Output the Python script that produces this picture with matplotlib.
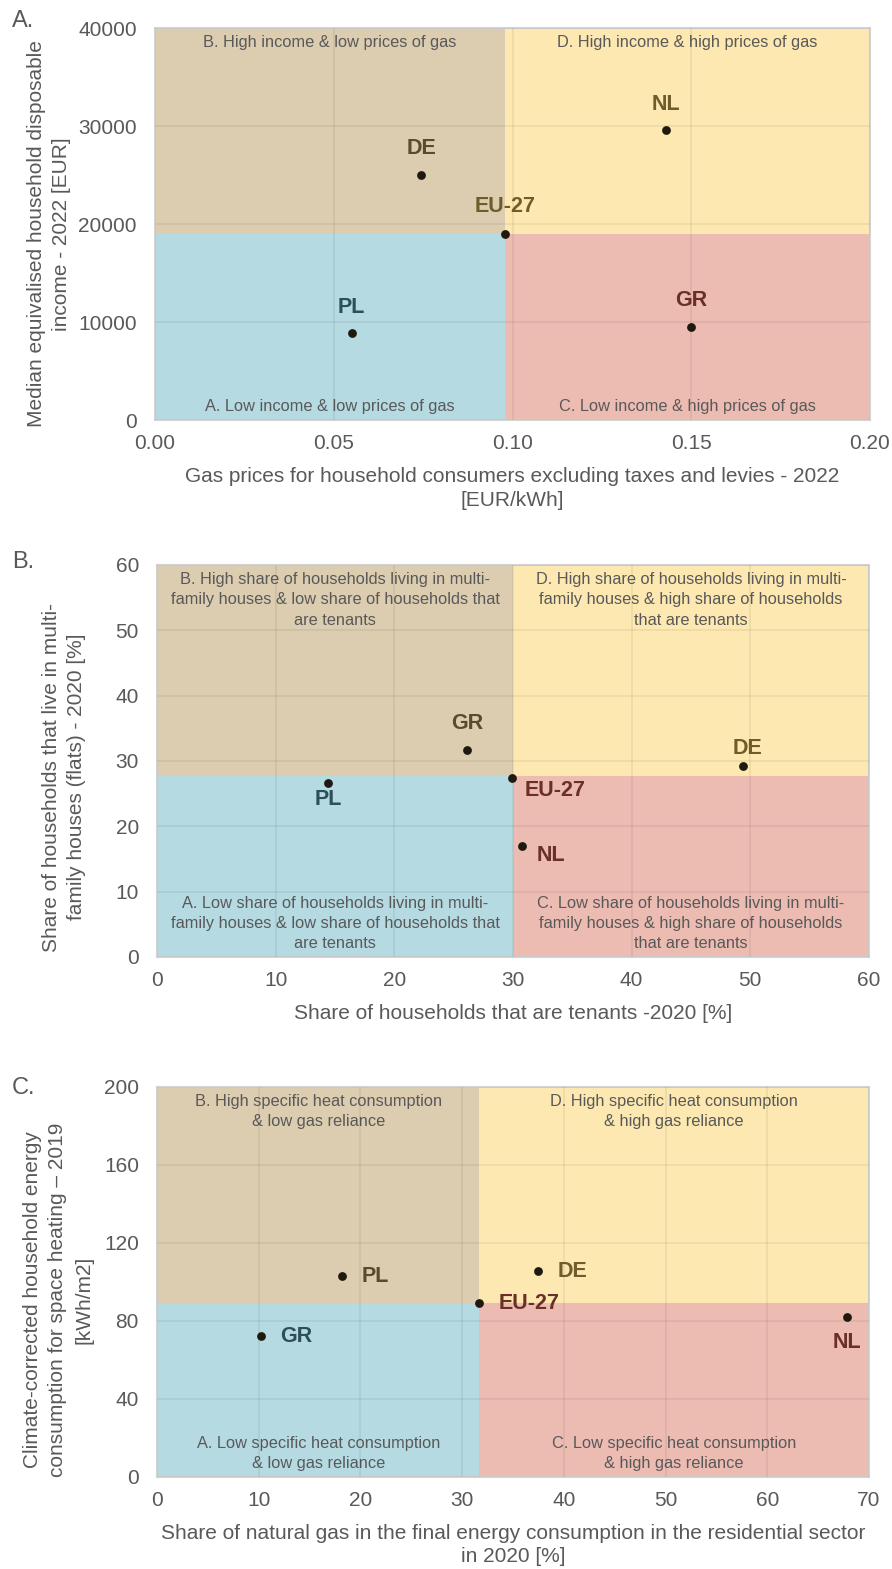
import matplotlib
matplotlib.use("Agg")
import matplotlib.pyplot as plt
from matplotlib.patches import Rectangle

plt.rcParams['font.family'] = ['Liberation Sans', 'DejaVu Sans']

# ---- data ----
countries_a = ['PL', 'DE', 'EU-27', 'NL', 'GR']
gas_price_a = [0.055, 0.0745, 0.098, 0.143, 0.150]
income_a = [8900, 25000, 19000, 29600, 9500]

countries_b = ['PL', 'GR', 'EU-27', 'DE', 'NL']
tenants_b = [14.4, 26.1, 29.9, 49.4, 30.8]
flats_b = [26.6, 31.7, 27.4, 29.2, 17.0]

countries_c = ['GR', 'PL', 'EU-27', 'DE', 'NL']
gas_share_c = [10.2, 18.2, 31.7, 37.5, 67.8]
heat_c = [72.3, 103.0, 89.2, 105.6, 82.0]

quad_a = ['A. Low income & low prices of gas',
          'B. High income & low prices of gas',
          'C. Low income & high prices of gas',
          'D. High income & high prices of gas']
quad_b = ['A. Low share of households living in multi-\nfamily houses & low share of households that\nare tenants',
          'B. High share of households living in multi-\nfamily houses & low share of households that\nare tenants',
          'C. Low share of households living in multi-\nfamily houses & high share of households\nthat are tenants',
          'D. High share of households living in multi-\nfamily houses & high share of households\nthat are tenants']
quad_c = ['A. Low specific heat consumption\n& low gas reliance',
          'B. High specific heat consumption\n& low gas reliance',
          'C. Low specific heat consumption\n& high gas reliance',
          'D. High specific heat consumption\n& high gas reliance']

FILL = {'A': '#b5dae2', 'B': '#dccdb0', 'C': '#ecbcb2', 'D': '#fce8b0'}
LBL = {'A': '#2c4f5a', 'B': '#5b4a2b', 'C': '#6a2f27', 'D': '#6e5c2a'}
GREY = '#595959'

W, H = 892, 1569
fig = plt.figure(figsize=(W / 100, H / 100), dpi=100)


def fx(px):
    return px / W


def fy(py):
    return 1 - py / H


def panel(box, letter, letter_y, ylab_pos, x, y, names, split, xlim, ylim,
          xticks, yticks, xfmt, quads, xlabel, ylabel, placement):
    left, top, right, bottom = box
    ax = fig.add_axes([fx(left), fy(bottom), fx(right - left), (bottom - top) / H])
    sx, sy = split
    x0, x1 = xlim
    y0, y1 = ylim
    ax.add_patch(Rectangle((x0, y0), sx - x0, sy - y0, color=FILL['A'], lw=0, zorder=0))
    ax.add_patch(Rectangle((x0, sy), sx - x0, y1 - sy, color=FILL['B'], lw=0, zorder=0))
    ax.add_patch(Rectangle((sx, y0), x1 - sx, sy - y0, color=FILL['C'], lw=0, zorder=0))
    ax.add_patch(Rectangle((sx, sy), x1 - sx, y1 - sy, color=FILL['D'], lw=0, zorder=0))
    ax.set_xlim(xlim)
    ax.set_ylim(ylim)
    ax.set_xticks(xticks)
    ax.set_yticks(yticks)
    ax.set_xticklabels([xfmt.format(v) for v in xticks])
    ax.grid(True, color='black', alpha=0.07, lw=1.1, zorder=1)
    ax.set_axisbelow(False)
    ax.tick_params(length=0, labelsize=15, labelcolor=GREY)
    ax.tick_params(axis='x', pad=10)
    ax.tick_params(axis='y', pad=13)
    for s in ax.spines.values():
        s.set_color('#d4d4d4')
        s.set_linewidth(1.5)

    # quadrant captions
    cx_l, cx_r = (x0 + sx) / 2, (sx + x1) / 2
    kw = dict(ha='center', fontsize=11.8, color=GREY, linespacing=1.45, zorder=2,
              textcoords='offset points', xycoords='data')
    ax.annotate(quads[0], (cx_l, y0), xytext=(0, 4), va='bottom', **kw)
    ax.annotate(quads[1], (cx_l, y1), xytext=(0, -5), va='top', **kw)
    ax.annotate(quads[2], (cx_r, y0), xytext=(0, 4), va='bottom', **kw)
    ax.annotate(quads[3], (cx_r, y1), xytext=(0, -5), va='top', **kw)

    ax.scatter(x, y, s=40, color='#1e1a10', zorder=4, lw=0)
    for xi, yi, name, (dx, dy, ha, q) in zip(x, y, names, placement):
        ax.annotate(name, (xi, yi), xytext=(dx, dy), textcoords='offset points',
                    ha=ha, va='center', fontsize=15.5, fontweight='bold',
                    color=LBL[q], zorder=5)

    # axis titles placed in figure pixels
    fig.text(fx((left + right) / 2), fy(bottom + 47), xlabel, fontsize=15, color=GREY,
             ha='center', va='top', linespacing=1.3)
    fig.text(fx(ylab_pos[0]), fy(ylab_pos[1]), ylabel, fontsize=15, color=GREY,
             ha='center', va='center', rotation=90, linespacing=1.45,
             multialignment='center')
    fig.text(fx(12), fy(letter_y), letter, fontsize=17, color=GREY,
             ha='left', va='center')
    return ax


panel((155, 28, 870, 420), 'A.', 21, (49, 234), gas_price_a, income_a, countries_a,
      (0.098, 19000), (0, 0.2), (0, 40000),
      [0, 0.05, 0.10, 0.15, 0.20], [0, 10000, 20000, 30000, 40000], '{:.2f}', quad_a,
      'Gas prices for household consumers excluding taxes and levies - 2022\n[EUR/kWh]',
      'Median equivalised household disposable\nincome - 2022 [EUR]',
      [(0, 18, 'center', 'A'), (0, 19, 'center', 'B'), (0, 20, 'center', 'D'),
       (0, 18, 'center', 'D'), (0, 19, 'center', 'C')])

panel((157, 565, 869, 957), 'B.', 562, (64, 777), tenants_b, flats_b, countries_b,
      (30, 27.7), (0, 60), (0, 60),
      [0, 10, 20, 30, 40, 50, 60], [0, 10, 20, 30, 40, 50, 60], '{:d}', quad_b,
      'Share of households that are tenants -2020 [%]',
      'Share of households that live in multi-\nfamily houses (flats) - 2020 [%]',
      [(0, -12, 'center', 'A'), (0, 19, 'center', 'B'), (9, -9, 'left', 'C'),
       (3, 13, 'center', 'D'), (10, -7, 'left', 'C')])

panel((157, 1087, 869, 1477), 'C.', 1088, (58, 1300), gas_share_c, heat_c, countries_c,
      (31.7, 89.2), (0, 70), (0, 200),
      [0, 10, 20, 30, 40, 50, 60, 70], [0, 40, 80, 120, 160, 200], '{:d}', quad_c,
      'Share of natural gas in the final energy consumption in the residential sector\nin 2020 [%]',
      'Climate-corrected household energy\nconsumption for space heating – 2019\n[kWh/m2]',
      [(14, 0, 'left', 'A'), (14, 0, 'left', 'B'), (14, 0, 'left', 'C'),
       (14, 0, 'left', 'D'), (0, -18, 'center', 'C')])

fig.savefig('out.png', dpi=100)
